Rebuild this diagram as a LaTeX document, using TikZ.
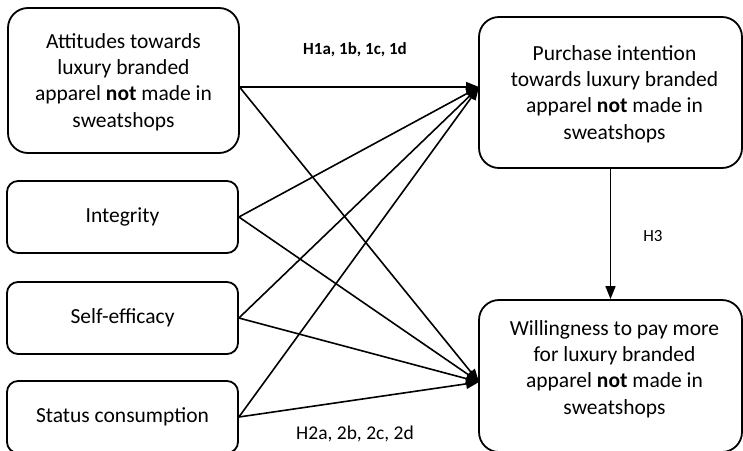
\documentclass[tikz,border=0pt]{standalone}
\usepackage{fontspec}
\setmainfont{Carlito}
\usetikzlibrary{arrows.meta,calc}
\begin{document}
\begin{tikzpicture}[x=1pt,y=-1pt,
  bigbox/.style={draw,line width=1.8pt,rounded corners=20pt,inner sep=0pt},
  smallbox/.style={draw,line width=1.8pt,rounded corners=11pt,inner sep=0pt,minimum width=231pt,minimum height=72pt,font=\fontsize{21.5}{26}\selectfont},
  boxtext/.style={align=center,font=\fontsize{21.5}{26.3}\selectfont},
  conn/.style={line width=1.6pt,-{Triangle[length=13pt,width=10pt]}},
  lab/.style={font=\fontsize{17}{20}\selectfont}]
\useasboundingbox (0,0) rectangle (743,450);
% left boxes
\node[bigbox,minimum width=231pt,minimum height=145pt] (A) at (123.5,80.5) {};
\node[boxtext] (At) at (123.5,82) {Attitudes towards\\luxury branded\\apparel \textbf{not} made in\\sweatshops};
\node[smallbox] (I) at (122.5,217) {Integrity};
\node[smallbox] (S) at (122.5,318) {Self-efficacy};
\node[smallbox] (C) at (122.5,417) {Status consumption};
% right boxes
\node[bigbox,minimum width=263pt,minimum height=151pt] (P) at (610.5,92.5) {};
\node[boxtext] (Pt) at (614.5,94) {Purchase intention\\towards luxury branded\\apparel \textbf{not} made in\\sweatshops};
\node[bigbox,minimum width=263pt,minimum height=152pt] (W) at (610.5,376) {};
\node[boxtext] (Wt) at (614.5,369) {Willingness to pay more\\for luxury branded\\apparel \textbf{not} made in\\sweatshops};
% connection points
\coordinate (pin) at (479,87);
\coordinate (win) at (479,382);
\coordinate (aout) at (239.5,87);
% H1 arrows
\draw[conn] (aout) -- (pin);
\draw[conn] (I.east) -- (pin);
\draw[conn] (S.east) -- (pin);
\draw[conn] (C.east) -- (pin);
% H2 arrows
\draw[conn] (aout) -- (win);
\draw[conn] (I.east) -- (win);
\draw[conn] (S.east) -- (win);
\draw[conn] (C.east) -- (win);
% H3
\draw[conn] (P.south) -- (W.north);
% labels
\node[lab,font=\fontsize{17}{20}\selectfont\bfseries] (h1) at (355,50) {H1a, 1b, 1c, 1d};
\node[lab,font=\fontsize{19.5}{22}\selectfont] (h2) at (355,434) {H2a, 2b, 2c, 2d};
\node[lab] (h3) at (653,236) {H3};
\end{tikzpicture}
\end{document}
